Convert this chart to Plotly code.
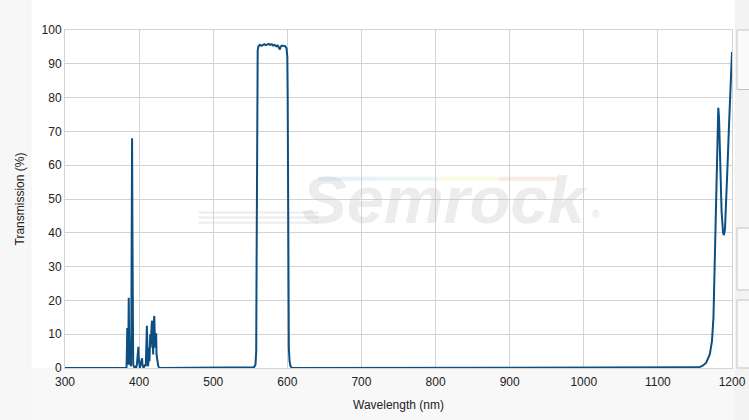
import plotly.graph_objects as go

# ---- data ----
uv_wl = [300, 380, 383, 383.5, 384, 384.5, 385, 385.5, 386, 386.5, 387, 387.5, 388, 388.5, 389, 389.5,
         390, 390.5, 391, 391.5, 392, 393, 394, 395, 396, 397, 398, 399, 399.5, 400, 401, 402, 403,
         404, 404.5, 405, 406, 407, 408, 409, 409.5, 410, 410.5, 411, 411.5, 412, 413, 413.5, 414,
         414.5, 415, 415.5, 416, 416.5, 417, 417.5, 418, 418.5, 419, 419.5, 420, 420.5, 421, 421.5,
         422, 422.5, 423, 423.5, 424, 425, 425.5, 426, 427, 430]
uv_t = [0, 0, 0, 5, 11.8, 3, 1, 8, 20.8, 10, 2, 1, 3, 1, 0.5, 10,
        35, 68, 40, 8, 1, 0.5, 0, 0.3, 0, 1, 4, 6.3, 3, 0.5, 0, 1, 2,
        2.9, 1, 0.5, 0, 0.5, 1, 0.5, 3, 9, 12.5, 8, 2, 0.5, 3, 6, 2,
        4, 10, 6, 11, 8, 13, 14, 9, 12, 4, 13, 15, 15.4, 11, 6,
        10, 9, 10.3, 4, 2.5, 2.5, 1, 0.5, 0, 0]

pb_wl = [430, 550, 555, 557, 558, 558.5, 559, 559.5, 560, 561, 563, 565, 567, 569, 571, 573, 575,
         577, 579, 581, 583, 585, 587, 589, 590, 591, 593, 595, 597, 599, 600, 600.5, 601, 601.5,
         602, 603, 604, 606]
pb_t = [0, 0, 0.2, 1, 5, 30, 70, 90, 94, 95.2, 95.6, 95.3, 95.6, 95.8, 95.5, 95.7, 95.9,
        95.6, 95.8, 95.4, 95.6, 95.2, 95.4, 94.6, 94.2, 95.1, 95.4, 95.3, 95.2, 94.5, 92, 80, 50, 20,
        6, 2, 0.7, 0]

ir_wl = [606, 1150, 1155, 1160, 1165, 1170, 1173, 1175, 1177, 1179, 1180.5, 1181.5, 1182.5, 1184,
         1186, 1188, 1189, 1190.5, 1192, 1194, 1196, 1198, 1200]
ir_t = [0, 0, 0.2, 0.6, 1.5, 4, 8, 15, 35, 60, 74, 77, 74, 60,
        46, 40, 39.3, 41, 48, 60, 72, 84, 93.5]

wavelength = uv_wl + pb_wl[1:] + ir_wl[1:]
transmission = uv_t + pb_t[1:] + ir_t[1:]

x_ticks = [300, 400, 500, 600, 700, 800, 900, 1000, 1100, 1200]
y_ticks = [0, 10, 20, 30, 40, 50, 60, 70, 80, 90, 100]

LINE = "#0c4f80"
GRID = "#d3d3d3"
FONT = "Liberation Sans, Arial, sans-serif"

fig = go.Figure()
fig.add_trace(go.Scatter(x=wavelength, y=transmission, mode="lines",
                         line=dict(color=LINE, width=2), hoverinfo="x+y", showlegend=False))

fig.update_xaxes(range=[300, 1200], tickvals=x_ticks, showgrid=True, gridcolor=GRID, gridwidth=1,
                 zeroline=False, showline=True, linecolor=GRID, mirror=True, ticks="", automargin=False,
                 ticklabelstandoff=3,
                 tickfont=dict(family=FONT, size=12, color="#222"),
                 title=dict(text="Wavelength (nm)", font=dict(family=FONT, size=12, color="#222"), standoff=12))
fig.update_yaxes(range=[0, 100], tickvals=y_ticks, showgrid=True, gridcolor=GRID, gridwidth=1,
                 zeroline=False, showline=True, linecolor=GRID, mirror=True, ticks="", automargin=False,
                 tickfont=dict(family=FONT, size=12, color="#222"),
                 title=dict(text="Transmission (%)", font=dict(family=FONT, size=12, color="#222"), standoff=14))

shapes = []
# background panels (paper coords, extend into margins)
shapes.append(dict(type="rect", xref="paper", yref="paper", x0=-0.2, x1=1.1, y0=-0.3, y1=0,
                   fillcolor="#f8f8f8", line=dict(width=0), layer="below"))
shapes.append(dict(type="rect", xref="paper", yref="paper", x0=-0.2, x1=-0.05, y0=-0.3, y1=1.2,
                   fillcolor="#f7f7f7", line=dict(width=0), layer="below"))
# right-hand side panel with boxes
shapes.append(dict(type="rect", xref="paper", yref="paper", x0=1.004, x1=1.05, y0=-0.3, y1=1.2,
                   fillcolor="#f3f3f3", line=dict(width=0), layer="below"))
for y0, y1 in [(0.824, 1.0), (0.231, 0.414), (0.0, 0.201)]:
    shapes.append(dict(type="rect", xref="paper", yref="paper", x0=1.0075, x1=1.05, y0=y0, y1=y1,
                       fillcolor="#fafafa", line=dict(color="#c4c4c4", width=1), layer="above"))
# watermark stripes
for py in [0.46, 0.445, 0.43]:
    shapes.append(dict(type="line", xref="paper", yref="paper", x0=0.2, x1=0.38, y0=py, y1=py,
                       line=dict(color="#ececec", width=2), layer="below"))
for i, c in enumerate(["#e8f0fb", "#e9f8ee", "#fbf8e4", "#fbe9e6"]):
    shapes.append(dict(type="line", xref="paper", yref="paper", x0=0.38 + i * 0.09, x1=0.47 + i * 0.09,
                       y0=0.56, y1=0.56, line=dict(color=c, width=4), layer="below"))
fig.update_layout(shapes=shapes)

fig.add_annotation(x=0.57, y=0.50, xref="paper", yref="paper", text="<b><i>Semrock</i></b>",
                   showarrow=False, font=dict(family=FONT, size=67, color="rgba(195,195,195,0.32)"))
fig.add_annotation(x=0.805, y=0.455, xref="paper", yref="paper", text="®",
                   showarrow=False, font=dict(family=FONT, size=10, color="rgba(190,190,190,0.5)"))

fig.update_layout(width=749, height=420, margin=dict(l=65, r=17, t=30, b=52),
                  paper_bgcolor="white", plot_bgcolor="white",
                  font=dict(family=FONT, size=12, color="#222"))

fig.write_html("out.html", config={"displayModeBar": False})

# remove the default page margin so the figure sits at the window's top-left corner
with open("out.html", "r", encoding="utf-8") as f:
    html = f.read()
html = html.replace("<body>", '<body style="margin:0;padding:0;">', 1)
html = html.replace("<head>", '<head><style>html,body{margin:0;padding:0;}</style>', 1)
with open("out.html", "w", encoding="utf-8") as f:
    f.write(html)
